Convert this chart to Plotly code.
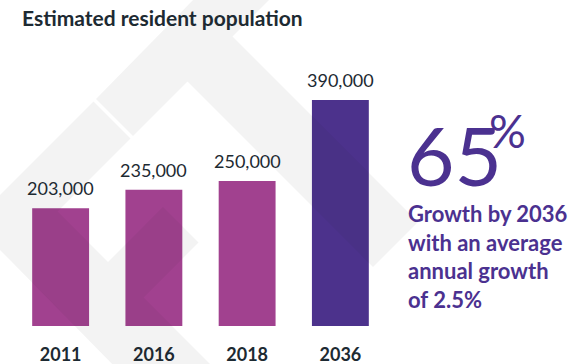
import plotly.graph_objects as go

# Estimated resident population by year
years = ["2011", "2016", "2018", "2036"]
population = [203000, 235000, 250000, 390000]
bar_colors = ["#A1418F", "#A1418F", "#A1418F", "#4C328C"]

# Growth callout
growth_pct = "65"
growth_note = ["Growth by 2036", "with an average", "annual growth", "of 2.5%"]

W, H = 577, 364
M = dict(l=14, r=190, t=40, b=38)
PW = W - M["l"] - M["r"]
PH = H - M["t"] - M["b"]
Y_MAX = 493500

DARK = "#1D2A32"
PURPLE = "#4B3190"
FONT = "Lato"


def px_x(x):
    return (x - M["l"]) / PW


def px_y(y):
    return (H - M["b"] - y) / PH


def poly_path(pts):
    # keep every ring in the same winding so overlaps fill once
    area = sum(x1 * y2 - x2 * y1 for (x1, y1), (x2, y2) in zip(pts, pts[1:] + pts[:1]))
    if area < 0:
        pts = pts[::-1]
    return "M " + " L ".join(f"{px_x(x):.4f},{px_y(y):.4f}" for x, y in pts) + " Z"


# Faint diamond-band logo behind the bars (page pixel geometry)
logo_bands = [
    [(195, -2), (271, -2), (133, 136), (96, 99)],
    [(232.5, 36.5), (418, 222), (373, 267), (187.5, 81.5)],
    [(93.5, 101.5), (130.5, 138.5), (9.5, 259.5), (-2, 248), (-2, 197)],
    [(57.5, 211.5), (218, 372), (120, 372), (9.5, 259.5)],
    [(163, 207), (198.5, 242.5), (143.5, 297.5), (108, 262)],
]
logo_path = " ".join(poly_path(b) for b in logo_bands)

fig = go.Figure(
    go.Bar(
        x=years,
        y=population,
        marker=dict(color=bar_colors, line=dict(width=0)),
        hoverinfo="skip",
    )
)

annotations = []
for i, v in enumerate(population):
    annotations.append(
        dict(
            x=i, y=v, xref="x", yref="y",
            text=f"{v:,}",
            showarrow=False, yanchor="bottom", yshift=7,
            font=dict(family=FONT, size=18, color=DARK),
        )
    )

callout = [
    dict(x=px_x(405), y=px_y(205), text=growth_pct, xanchor="left", yanchor="bottom",
         font=dict(family=FONT, size=82, color=PURPLE)),
    dict(x=px_x(487), y=px_y(101), text="%", xanchor="left", yanchor="top",
         font=dict(family=FONT, size=46, color=PURPLE)),
    dict(x=px_x(406), y=px_y(198), text="<br>".join(growth_note), xanchor="left", yanchor="top",
         align="left", font=dict(family=FONT, size=22, color=PURPLE, weight="bold")),
]
for c in callout:
    c.update(xref="paper", yref="paper", showarrow=False)
    annotations.append(c)

fig.update_layout(
    width=W, height=H,
    margin=M,
    paper_bgcolor="white", plot_bgcolor="rgba(0,0,0,0)",
    bargap=0.39,
    showlegend=False,
    title=dict(
        text="<b>Estimated resident population</b>",
        x=22 / W, xanchor="left", xref="container",
        y=1 - 19 / H, yanchor="middle", yref="container",
        font=dict(family=FONT, size=21, color=DARK),
        automargin=False,
    ),
    xaxis=dict(
        type="category", range=[-0.5, 3.5], automargin=False,
        showgrid=False, zeroline=False, showline=False, ticks="",
        tickfont=dict(family=FONT, size=18, color=DARK, weight="bold"),
        ticklabelstandoff=16,
        fixedrange=True,
    ),
    yaxis=dict(
        range=[0, Y_MAX], showgrid=False, zeroline=False, showline=False,
        showticklabels=False, ticks="", fixedrange=True, automargin=False,
    ),
    shapes=[
        dict(
            type="path", path=logo_path, xref="paper", yref="paper",
            fillcolor="rgba(30,45,45,0.055)", line=dict(width=0), layer="above",
        )
    ],
    annotations=annotations,
)

fig.write_html("out.html", config={"displayModeBar": False})
